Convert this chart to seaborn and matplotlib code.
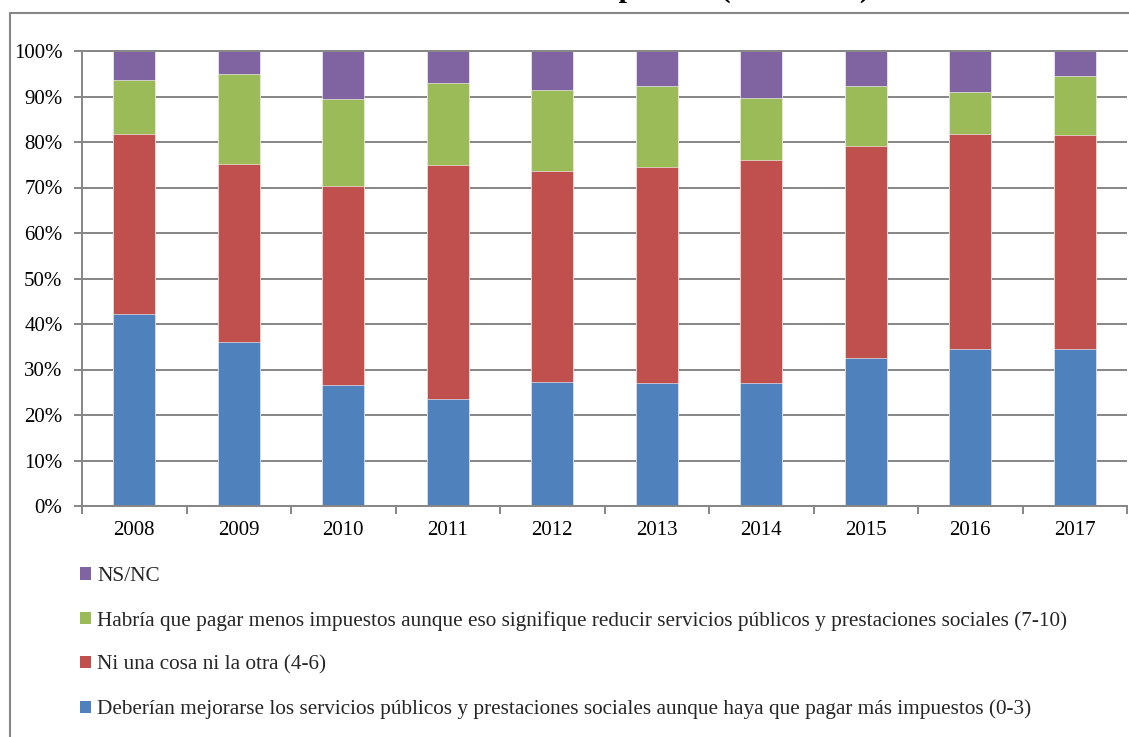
import matplotlib
matplotlib.use("Agg")
import matplotlib.pyplot as plt
import pandas as pd
import seaborn as sns
from matplotlib.lines import Line2D
from matplotlib.patches import Patch

# Survey shares (%) by year
years = ["2008", "2009", "2010", "2011", "2012", "2013", "2014", "2015", "2016", "2017"]
deberian = [42.1, 36.0, 26.7, 23.6, 27.2, 27.0, 27.0, 32.5, 34.4, 34.6]
ni_una = [39.7, 39.2, 43.7, 51.3, 46.4, 47.4, 49.0, 46.7, 47.4, 46.9]
habria = [11.8, 19.7, 19.1, 18.1, 17.8, 17.9, 13.7, 13.0, 9.2, 13.0]
nsnc = [6.4, 5.1, 10.5, 7.0, 8.6, 7.7, 10.3, 7.8, 9.0, 5.5]

series_labels = [
    "Deberían mejorarse los servicios públicos y prestaciones sociales aunque haya que pagar más impuestos (0-3)",
    "Ni una cosa ni la otra (4-6)",
    "Habría que pagar menos impuestos aunque eso signifique reducir servicios públicos y prestaciones sociales (7-10)",
    "NS/NC",
]
series_colors = ["#4F81BD", "#C0504D", "#9BBB59", "#8064A2"]
title = "Actitud ciudadana ante los impuestos (2008-2017)"

sns.set_theme(style="white")
plt.rcParams["font.family"] = ["Liberation Serif", "DejaVu Serif"]

W, H = 1129, 737
fig = plt.figure(figsize=(W / 100, H / 100), dpi=100)
fig.patch.set_facecolor("white")
ax = fig.add_axes([82 / W, 1 - 506 / H, (1127 - 82) / W, (506 - 51) / H])

df = pd.DataFrame({"year": years, "s0": deberian, "s1": ni_una, "s2": habria, "s3": nsnc})
# cumulative tops for the stacked bars
df["c0"] = df["s0"]
df["c1"] = df["c0"] + df["s1"]
df["c2"] = df["c1"] + df["s2"]
df["c3"] = df["c2"] + df["s3"]

grid_col = "#868686"
# draw from the tallest stack down so each layer covers the one beneath
for i in [3, 2, 1, 0]:
    sns.barplot(data=df, x="year", y=f"c{i}", color=series_colors[i], saturation=1,
                width=0.4, errorbar=None, ax=ax, edgecolor="white", linewidth=0.4)

ax.set_xlim(-0.5, len(years) - 0.5)
ax.set_ylim(0, 100)
ax.set_yticks(range(0, 101, 10))
ax.set_yticklabels([f"{v}%" for v in range(0, 101, 10)], fontsize=15)
ax.set_xticks(range(len(years)))
ax.set_xticklabels(years, fontsize=15)
ax.set_xticks([i - 0.5 for i in range(len(years) + 1)], minor=True)
ax.set_xlabel("")
ax.set_ylabel("")

ax.yaxis.grid(True, color=grid_col, lw=1.4)
ax.xaxis.grid(False)
ax.set_axisbelow(True)
for side in ["left", "bottom", "top"]:
    ax.spines[side].set_visible(True)
    ax.spines[side].set_color(grid_col)
    ax.spines[side].set_linewidth(1.4)
ax.spines["right"].set_visible(False)

ax.tick_params(axis="y", which="major", direction="out", length=6, width=1.4,
               color=grid_col, pad=8, labelcolor="black", left=True)
ax.tick_params(axis="x", which="major", length=0, pad=11, labelcolor="black")
ax.tick_params(axis="x", which="minor", direction="out", length=6, width=1.4,
               color=grid_col, bottom=True)

handles = [Patch(facecolor=series_colors[i], edgecolor="none") for i in [3, 2, 1, 0]]
labels = [series_labels[i] for i in [3, 2, 1, 0]]
fig.legend(handles, labels, loc="upper left", bbox_to_anchor=(80 / W, 1 - 567 / H),
           frameon=False, fontsize=15.3, handlelength=0.5, handleheight=0.5,
           handletextpad=0.3, labelspacing=1.17, borderpad=0, borderaxespad=0)

# chart area border
fig.add_artist(Line2D([10 / W, 10 / W], [0, 1 - 13 / H], transform=fig.transFigure,
                      color=grid_col, lw=1.5))
fig.add_artist(Line2D([10 / W, 1], [1 - 13 / H, 1 - 13 / H], transform=fig.transFigure,
                      color=grid_col, lw=1.5))

# chart title sits above the frame, only its lowest strokes fall inside
fig.text(870 / W, 1 + 3 / H, title, ha="right", va="baseline", fontsize=21.5,
         fontweight="bold", color="black")

fig.savefig("out.png", dpi=100, facecolor="white")
